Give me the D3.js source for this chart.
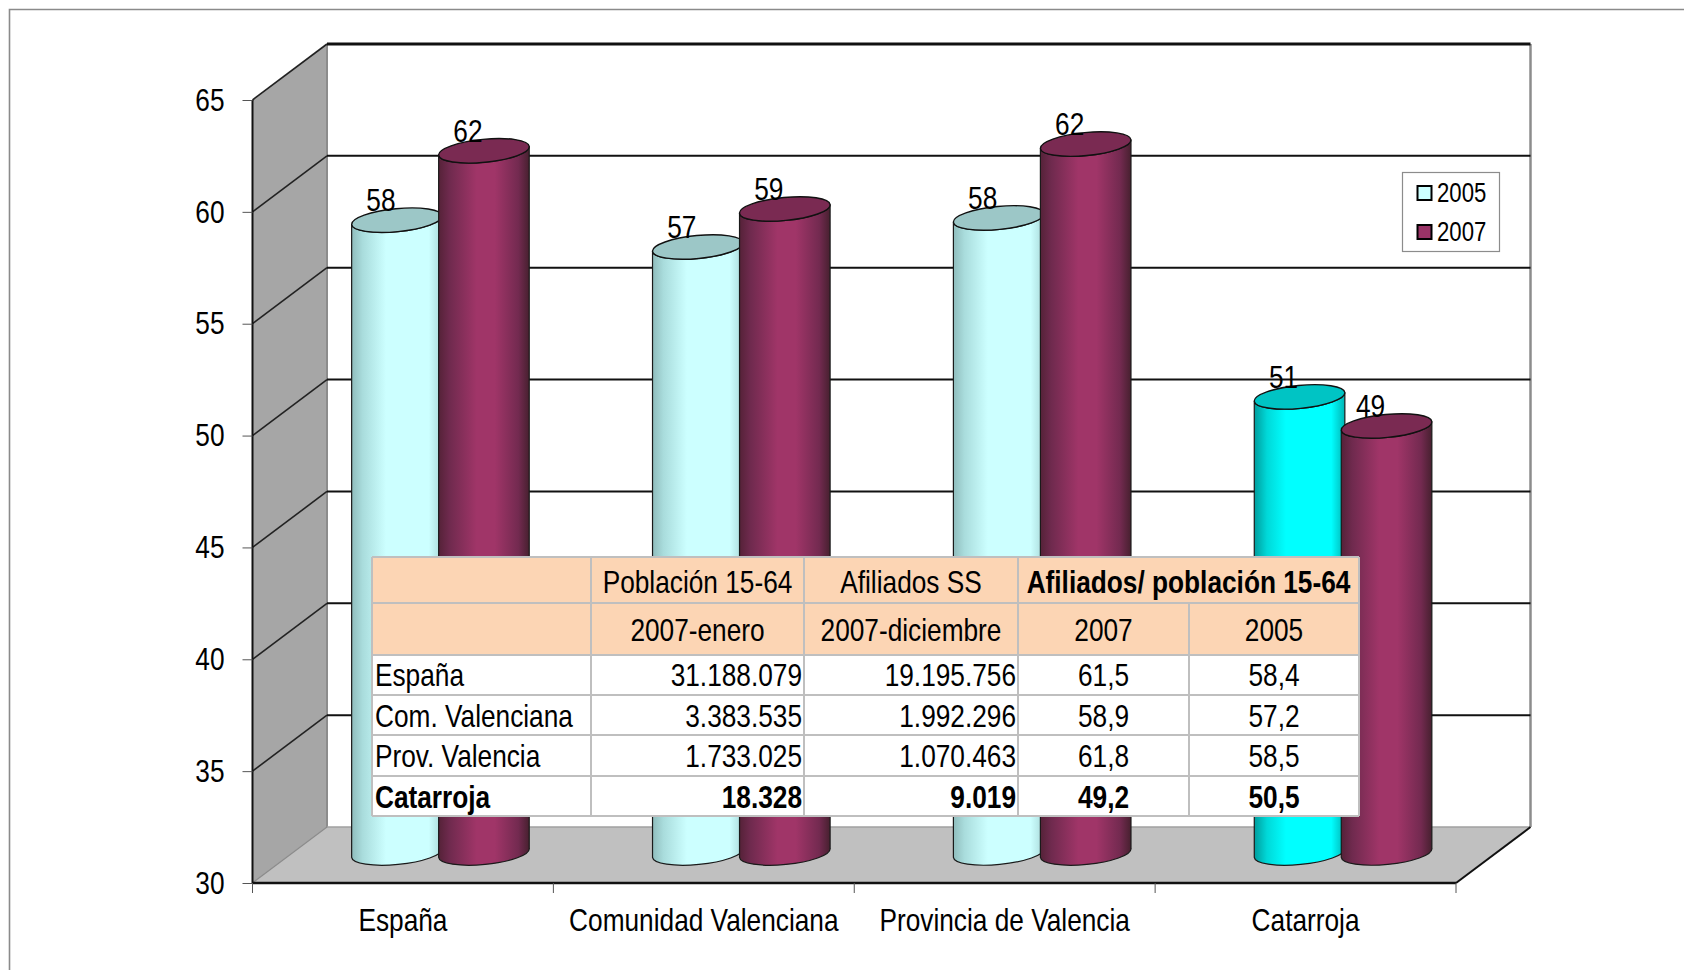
<!DOCTYPE html>
<html><head><meta charset="utf-8">
<script src="https://cdn.jsdelivr.net/npm/d3@7/dist/d3.min.js"></script>
<style>html,body{margin:0;padding:0;background:#fff}svg{display:block}
text{font-family:"Liberation Sans",Arial,sans-serif;fill:#000}</style>
</head><body><svg id="c" width="1684" height="970"></svg>
<script>
const categories = ["España","Comunidad Valenciana","Provincia de Valencia","Catarroja"];
const seriesNames = ["2005","2007"];
const values2005 = [58.4,57.2,58.5,50.5];
const values2007 = [61.5,58.9,61.8,49.2];
const labels2005 = ["58","57","58","51"];
const labels2007 = ["62","59","62","49"];
const yTicks = [30,35,40,45,50,55,60,65];
const tableHead1 = ["","Población 15-64","Afiliados SS","Afiliados/ población 15-64"];
const tableHead2 = ["","2007-enero","2007-diciembre","2007","2005"];
const tableRows = [
 ["España","31.188.079","19.195.756","61,5","58,4"],
 ["Com. Valenciana","3.383.535","1.992.296","58,9","57,2"],
 ["Prov. Valencia","1.733.025","1.070.463","61,8","58,5"],
 ["Catarroja","18.328","9.019","49,2","50,5"]];

const svg = d3.select("#c");
const FS = 32;
const xL=252.5,xR=1456,yT=100,yB=883,depthX=74.5,depthY=56;
const barDx=37.5,barDyTop=27.5,barDyBase=30;
const y=d3.scaleLinear().domain([30,65]).range([yB,yT]);
const x=d3.scaleBand().domain(categories).range([xL,xR]);
const x1=d3.scaleBand().domain(seriesNames).range([0,174]);

// frame
svg.append("path").attr("d","M9.5,970V9.5H1684").attr("fill","none").attr("stroke","#8a8a8a").attr("stroke-width",1.6);

// walls
svg.append("polygon").attr("fill","#a6a6a6")
  .attr("points",[[xL,y(65)],[xL+depthX,y(65)-depthY],[xL+depthX,y(30)-depthY],[xL,y(30)]].join(" "));
svg.append("polygon").attr("fill","#c0c0c0")
  .attr("points",[[xL,y(30)],[xL+depthX,y(30)-depthY],[xR+depthX,y(30)-depthY],[xR,y(30)]].join(" "));
const bx=xL+depthX, rx0=xR+depthX;
svg.append("line").attr("x1",bx).attr("x2",bx).attr("y1",y(65)-depthY).attr("y2",y(30)-depthY).attr("stroke","#8c8c8c").attr("stroke-width",2);
svg.append("line").attr("x1",rx0).attr("x2",rx0).attr("y1",y(65)-depthY).attr("y2",y(30)-depthY).attr("stroke","#8c8c8c").attr("stroke-width",2.5);
svg.append("line").attr("x1",bx).attr("x2",rx0).attr("y1",y(30)-depthY).attr("y2",y(30)-depthY).attr("stroke","#a0a0a0").attr("stroke-width",1.5);
// grid
yTicks.filter(v=>v>30).forEach(v=>{
  svg.append("line").attr("stroke","#222").attr("stroke-width",1.6)
    .attr("x1",xL).attr("y1",y(v)).attr("x2",bx).attr("y2",y(v)-depthY);
  svg.append("line").attr("stroke","#111").attr("stroke-width",v===65?3:2)
    .attr("x1",bx).attr("y1",y(v)-depthY).attr("x2",rx0).attr("y2",y(v)-depthY);
});
svg.append("path").attr("fill","none").attr("stroke","#8a8a8a").attr("stroke-width",1.2)
  .attr("d",`M${xL},${y(30)}L${bx},${y(30)-depthY}`);
svg.append("line").attr("x1",xR).attr("y1",y(30)).attr("x2",rx0).attr("y2",y(30)-depthY).attr("stroke","#111").attr("stroke-width",2);

// gradients
const defs=svg.append("defs");
function grad(id,stops){const g=defs.append("linearGradient").attr("id",id).attr("x1",0).attr("x2",1).attr("y1",0).attr("y2",0);
  stops.forEach(s=>g.append("stop").attr("offset",s[0]).attr("stop-color",s[1]));}
grad("gA",[[0,"#8fbcbc"],[0.12,"#a9dcdc"],[0.38,"#ccffff"],[0.85,"#ccffff"],[1,"#a8d8d8"]]);
grad("gB",[[0,"#552238"],[0.12,"#6f2a4e"],[0.42,"#a03568"],[0.62,"#a03568"],[0.88,"#732a50"],[1,"#47202f"]]);
grad("gC",[[0,"#009c9c"],[0.14,"#00d8d8"],[0.35,"#00ffff"],[0.85,"#00ffff"],[1,"#00b4b4"]]);

// cylinders
const RX=45.5,RY=11.5,ANG=-5.5,rad=ANG*Math.PI/180;
const ca=Math.cos(rad)*RX,sa=Math.sin(rad)*RX;
function cyl(g,cx,v,fill,topFill){
  const yt=y(v)-barDyTop,yb=y(30)-barDyBase;
  g.append("path").attr("fill",fill).attr("stroke","#1a1a1a").attr("stroke-width",1.2)
   .attr("d",`M${cx-ca},${yt-sa}L${cx-ca},${yb-sa}A${RX},${RY} ${ANG} 0 0 ${cx+ca},${yb+sa}L${cx+ca},${yt+sa}A${RX},${RY} ${ANG} 0 1 ${cx-ca},${yt-sa}Z`);
  g.append("ellipse").attr("cx",cx).attr("cy",yt).attr("rx",RX).attr("ry",RY)
   .attr("transform",`rotate(${ANG} ${cx} ${yt})`).attr("fill",topFill).attr("stroke","#111").attr("stroke-width",1.4);
}
const bars=svg.append("g");
categories.forEach((c,i)=>{
  const base=x(c)+x.bandwidth()/2+barDx-x1.bandwidth();
  const last=i===categories.length-1;
  cyl(bars,base+x1("2005")+x1.bandwidth()/2,values2005[i],last?"url(#gC)":"url(#gA)",last?"#00c4c4":"#9cc7c7");
  cyl(bars,base+x1("2007")+x1.bandwidth()/2,values2007[i],"url(#gB)","#7a2a52");
});
const lab=svg.append("g").attr("text-anchor","middle").attr("font-size",FS);
categories.forEach((c,i)=>{
  const base=x(c)+x.bandwidth()/2+barDx-x1.bandwidth();
  [[values2005,labels2005,"2005"],[values2007,labels2007,"2007"]].forEach(([vals,labs,s])=>{
    lab.append("text").attr("x",base+x1(s)+x1.bandwidth()/2-16).attr("y",y(vals[i])-barDyTop-9).text(labs[i]);
  });
});

// axes
const ay=svg.append("g").attr("transform",`translate(${xL},0)`)
  .call(d3.axisLeft(y).tickValues(yTicks).tickSize(10).tickPadding(18).tickFormat(d3.format("d")));
ay.attr("font-family",null);
ay.select(".domain").attr("stroke","#111").attr("stroke-width",2).attr("d",`M0,${y(65)}V${y(30)}`);
ay.selectAll(".tick line").attr("stroke","#555");
ay.selectAll("text").attr("font-size",FS);
const ax=svg.append("g").attr("transform",`translate(0,${yB})`)
  .call(d3.axisBottom(x).tickSize(0).tickPadding(38));
ax.attr("font-family",null);
ax.select(".domain").attr("stroke","#111").attr("stroke-width",2.5).attr("d",`M${xL},0H${xR}`);
ax.selectAll("text").attr("font-size",FS).attr("dy",0).attr("y",48);
categories.forEach((c,i)=>{
  ax.append("line").attr("x1",x(c)).attr("x2",x(c)).attr("y1",0).attr("y2",10).attr("stroke","#555");
  if(i===categories.length-1) ax.append("line").attr("x1",xR).attr("x2",xR).attr("y1",0).attr("y2",10).attr("stroke","#555");
});

// legend
const lg=svg.append("g");
lg.append("rect").attr("x",1402.5).attr("y",172.5).attr("width",97).attr("height",79).attr("fill","#fff").attr("stroke","#8c8c8c").attr("stroke-width",1.2);
const legendFills=["#ccffff","#993366"];
seriesNames.forEach((s,i)=>{
  const ly=186+i*39;
  lg.append("rect").attr("x",1417.5).attr("y",ly).attr("width",14).attr("height",14).attr("fill",legendFills[i]).attr("stroke","#000").attr("stroke-width",2);
  lg.append("text").attr("x",1437).attr("y",ly+16).attr("font-size",27).text(s);
});

// table
const cols=[372,591,804,1018,1189,1359];
const rows=[557,603,655,695,735,776,816];
const baselines=[593,641,686,727,767,808];
const t=svg.append("g").attr("font-size",FS);
t.append("rect").attr("x",cols[0]).attr("y",rows[0]).attr("width",cols[5]-cols[0]).attr("height",rows[2]-rows[0]).attr("fill","#fcd5b4");
t.append("rect").attr("x",cols[0]).attr("y",rows[2]).attr("width",cols[5]-cols[0]).attr("height",rows[6]-rows[2]).attr("fill","#fff");
const gc="#bfbfbf";
rows.forEach(r=>t.append("line").attr("x1",cols[0]).attr("x2",cols[5]).attr("y1",r).attr("y2",r).attr("stroke",gc).attr("stroke-width",2));
cols.forEach(c=>t.append("line").attr("x1",c).attr("x2",c).attr("y1",rows[0]).attr("y2",rows[6]).attr("stroke",gc).attr("stroke-width",2));
t.append("rect").attr("x",cols[4]-2).attr("y",rows[0]+1).attr("width",4).attr("height",rows[1]-rows[0]-2).attr("fill","#fcd5b4");
function put(txt,xp,yp,anchor,bold){t.append("text").attr("x",xp).attr("y",yp).attr("text-anchor",anchor).attr("font-weight",bold?"bold":null).text(txt);}
const mid=i=>(cols[i]+cols[i+1])/2;
put(tableHead1[1],mid(1),baselines[0],"middle");
put(tableHead1[2],mid(2),baselines[0],"middle");
put(tableHead1[3],(cols[3]+cols[5])/2,baselines[0],"middle",true);
tableHead2.forEach((h,i)=>{if(h)put(h,mid(i),baselines[1],"middle");});
tableRows.forEach((r,ri)=>{
  const b=ri===3,yy=baselines[ri+2];
  put(r[0],cols[0]+3,yy,"start",b);
  put(r[1],cols[2]-2,yy,"end",b);
  put(r[2],cols[3]-2,yy,"end",b);
  put(r[3],mid(3),yy,"middle",b);
  put(r[4],mid(4),yy,"middle",b);
});

// the reference uses a condensed face: compress glyphs horizontally
const NARROW=0.82;
svg.selectAll("text").each(function(){
  const w=this.getComputedTextLength();
  d3.select(this).attr("textLength",w*NARROW).attr("lengthAdjust","spacingAndGlyphs");
});
</script></body></html>
